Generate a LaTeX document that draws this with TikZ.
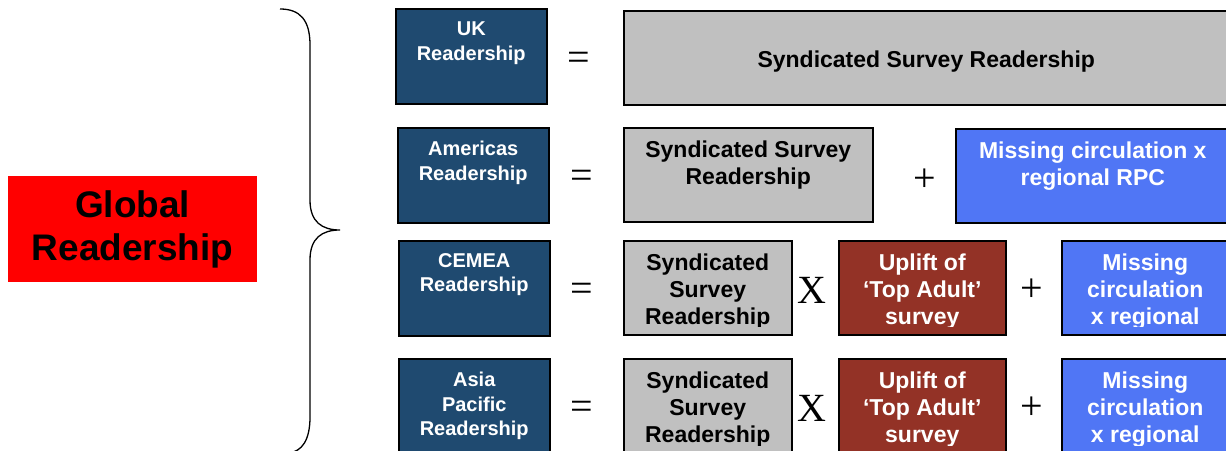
\documentclass[tikz,border=0pt]{standalone}
\usepackage{fontspec}
\setmainfont{Liberation Sans}
\newfontfamily\opfont{Liberation Serif}
\usetikzlibrary{positioning}

\definecolor{regionblue}{RGB}{31,74,112}
\definecolor{surveygrey}{RGB}{192,192,192}
\definecolor{upliftred}{RGB}{147,50,38}
\definecolor{missingblue}{RGB}{80,118,245}

\tikzset{
  termbox/.style={draw=black, line width=1.5pt, anchor=north west, inner sep=0pt},
  regionbox/.style={termbox, fill=regionblue, minimum width=151pt, minimum height=95pt},
  surveybox/.style={termbox, fill=surveygrey, minimum height=94pt},
  upliftbox/.style={termbox, fill=upliftred, minimum width=167pt, minimum height=94pt},
  missingbox/.style={termbox, fill=missingblue, minimum height=94pt},
  regiontext/.style={text=white, align=center, inner sep=0pt, font=\fontsize{20}{24.5}\selectfont\bfseries},
  boxtext/.style={align=center, inner sep=0pt, font=\fontsize{23}{27}\selectfont\bfseries},
  optext/.style={font=\opfont\fontsize{40}{40}\selectfont, inner sep=0pt},
}

\begin{document}
\begin{tikzpicture}[x=1pt, y=-1pt]
\useasboundingbox (0,0) rectangle (1226,450);

% global box and brace
\node[fill=red, anchor=north west, minimum width=249pt, minimum height=106pt, align=center,
      font=\fontsize{37}{43}\selectfont\bfseries] (global) at (8,176) {Global\\Readership};
\draw[line width=1.3pt] (280,9) .. controls (300,9) and (310,20) .. (310,45) -- (310,200)
  .. controls (310,222) and (322,230) .. (340,230)
  .. controls (322,230) and (310,238) .. (310,260) -- (310,417)
  .. controls (310,440) and (302,452) .. (288,453);

% UK
\node[regionbox] (uk) at (395,8) {};
\node[regiontext, below=14pt of uk.north] (uktext) {UK\\Readership};
\node[optext] (ukeq) at (579,61) {=};
\node[surveybox, minimum width=605pt] (uksurvey) at (623,10) {};
\node[boxtext] (uksurveytext) at ([yshift=-4pt]uksurvey.center) {Syndicated Survey Readership};

% Americas
\node[regionbox] (am) at (397,127) {};
\node[regiontext, below=14pt of am.north] (amtext) {Americas\\Readership};
\node[optext] (ameq) at (582,179) {=};
\node[surveybox, minimum width=249pt] (amsurvey) at (623,127) {};
\node[boxtext, below=14pt of amsurvey.north] (amsurveytext) {Syndicated Survey\\Readership};
\node[optext] (amplus) at (925,180) {+};
\node[missingbox, minimum width=274pt] (ammiss) at (955,128) {};
\node[boxtext, text=white, below=14pt of ammiss.north] (ammisstext) {Missing circulation x\\regional RPC};

% CEMEA
\node[regionbox] (ce) at (398,240) {};
\node[regiontext, below=13pt of ce.north] (cetext) {CEMEA\\Readership};
\node[optext] (ceeq) at (582,292) {=};
\node[surveybox, minimum width=168pt] (cesurvey) at (623,240) {};
\node[optext] (cetimes) at (812,290) {X};
\node[upliftbox] (ceuplift) at (838,240) {};
\node[optext] (ceplus) at (1032,290) {+};
\node[missingbox, minimum width=167pt] (cemiss) at (1061,240) {};

% Asia Pacific
\node[regionbox] (ap) at (398,358) {};
\node[regiontext, below=14pt of ap.north] (aptext) {Asia\\Pacific\\Readership};
\node[optext] (apeq) at (582,410) {=};
\node[surveybox, minimum width=168pt] (apsurvey) at (623,358) {};
\node[optext] (aptimes) at (812,408) {X};
\node[upliftbox] (apuplift) at (838,358) {};
\node[optext] (applus) at (1032,408) {+};
\node[missingbox, minimum width=167pt] (apmiss) at (1061,358) {};

% texts cut off at the bottom
\begin{scope}
\clip (600,230) rectangle (1230,326) (600,350) rectangle (1230,445);
\node[boxtext, below=14pt of cesurvey.north] (cesurveytext) {Syndicated\\Survey\\Readership};
\node[boxtext, text=white, below=14pt of ceuplift.north] (ceuplifttext) {Uplift of\\`Top Adult'\\survey};
\node[boxtext, text=white, below=14pt of cemiss.north] (cemisstext) {Missing\\circulation\\x regional};
\node[boxtext, below=14pt of apsurvey.north] (apsurveytext) {Syndicated\\Survey\\Readership};
\node[boxtext, text=white, below=14pt of apuplift.north] (apuplifttext) {Uplift of\\`Top Adult'\\survey};
\node[boxtext, text=white, below=14pt of apmiss.north] (apmisstext) {Missing\\circulation\\x regional};
\end{scope}
\end{tikzpicture}
\end{document}
